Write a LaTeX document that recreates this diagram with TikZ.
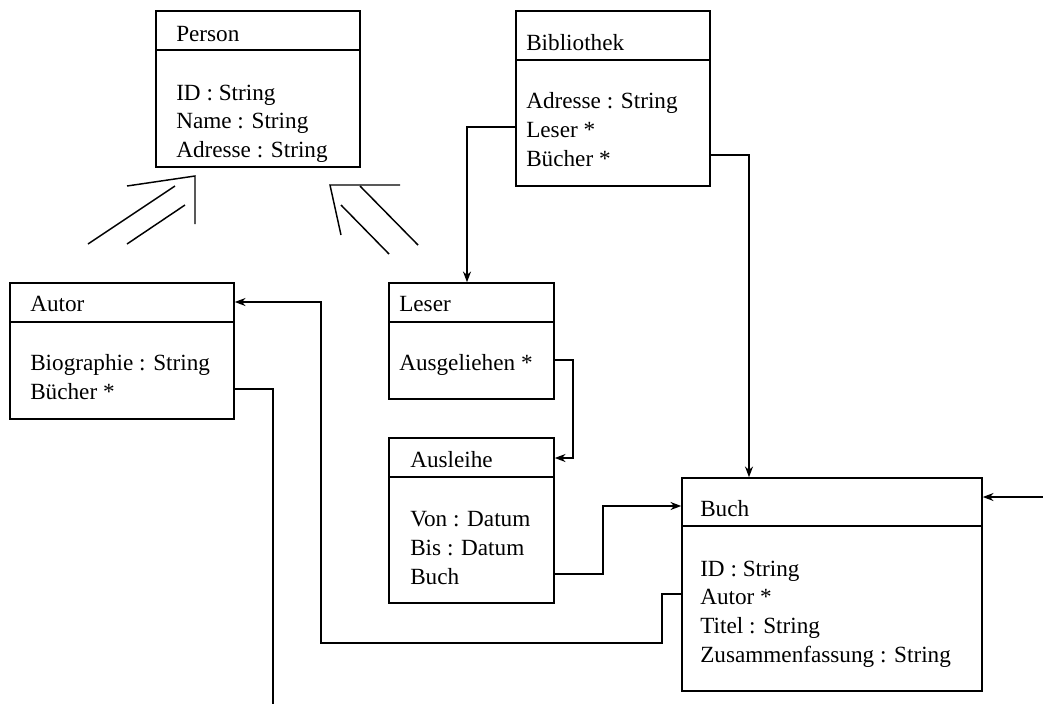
\documentclass[tikz,border=0pt]{standalone}
\usepackage{fontspec}
\setmainfont{Liberation Serif}
\usetikzlibrary{arrows.meta,fit}
\tikzset{
  classbox/.style={draw, line width=1.2pt, inner sep=0pt},
  septline/.style={line width=1.2pt},
  conn/.style={line width=0.9pt},
  arr/.style={-{Stealth[length=8pt,width=6pt,inset=2.5pt]}},
  txt/.style={anchor=base west, inner sep=0pt, font=\fontsize{17.4}{21}\selectfont},
  inh/.style={line width=1.1pt}
}
\newcommand{\umlclass}[6]{%
  \node[classbox, fit={(#2,#3) (#4,#5)}] (#1) {};
  \draw[septline] (#1.west |- 0,#6) -- (#1.east |- 0,#6);
}
\begin{document}
\begin{tikzpicture}[x=0.75pt,y=-0.75pt]
\useasboundingbox (0,0) rectangle (1043,704);

% Classes
\umlclass{person}{156}{11}{360}{167}{50}
\node[txt] (personT) at (176,41) {Person};
\node[txt] (personA) at (176,100) {ID : String};
\node[txt] (personB) at (176,128.5) {Name : String};
\node[txt] (personC) at (176,157) {Adresse : String};

\umlclass{bib}{516}{11}{710}{186}{60}
\node[txt] (bibT) at (526,50) {Bibliothek};
\node[txt] (bibA) at (526,108) {Adresse : String};
\node[txt] (bibB) at (526,137) {Leser *};
\node[txt] (bibC) at (526,166) {Bücher *};

\umlclass{autor}{10}{283}{234}{419}{322}
\node[txt] (autorT) at (30,311.5) {Autor};
\node[txt] (autorA) at (30,370.5) {Biographie : String};
\node[txt] (autorB) at (30,399.5) {Bücher *};

\umlclass{leser}{389}{283}{554}{399}{322}
\node[txt] (leserT) at (399,311.5) {Leser};
\node[txt] (leserA) at (399,370) {Ausgeliehen *};

\umlclass{ausl}{389}{438}{554}{603}{477}
\node[txt] (auslT) at (410,467) {Ausleihe};
\node[txt] (auslA) at (410,526) {Von : Datum};
\node[txt] (auslB) at (410,555) {Bis : Datum};
\node[txt] (auslC) at (410,584) {Buch};

\umlclass{buch}{682}{478}{982}{691}{526}
\node[txt] (buchT) at (700,516) {Buch};
\node[txt] (buchA) at (700,576) {ID : String};
\node[txt] (buchB) at (700,604.5) {Autor *};
\node[txt] (buchC) at (700,633) {Titel : String};
\node[txt] (buchD) at (700,662) {Zusammenfassung : String};

% free ends
\coordinate (autorend) at (273,704);
\coordinate (rightin) at (1043,497);

% Connectors
\draw[conn,arr] (bib.west |- 0,127) -| (467,0 |- leser.north);
\draw[conn,arr] (bib.east |- 0,155) -| (749,0 |- buch.north);
\draw[conn,arr] (leser.east |- 0,360) -- (573,360) -- (573,458) -- (ausl.east |- 0,458);
\draw[conn,arr] (ausl.east |- 0,574) -- (603,574) -- (603,506) -- (buch.west |- 0,506);
\draw[conn,arr] (buch.west |- 0,594) -- (662,594) -- (662,643) -- (321,643) -- (321,302) -- (autor.east |- 0,302);
\draw[conn] (autor.east |- 0,389) -| (autorend);
\draw[conn,arr] (rightin) -- (buch.east |- rightin);

% Inheritance marks
\draw[inh] (127,186) -- (195,176) -- (195,224);
\draw[inh] (88,244) -- (175,186);
\draw[inh] (127,244) -- (185,205);
\draw[inh] (400,185) -- (330,185) -- (341,235);
\draw[inh] (360,186) -- (418,245);
\draw[inh] (341,205) -- (389,254);
\end{tikzpicture}
\end{document}
